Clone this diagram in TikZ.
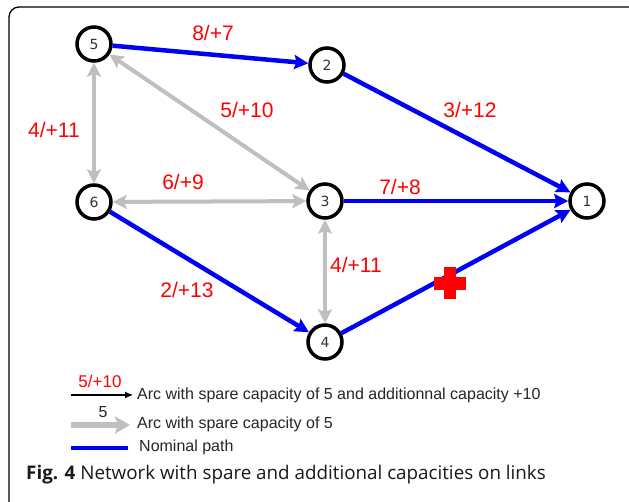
\documentclass[tikz,border=0pt]{standalone}
\usepackage{fontspec}
\setmainfont{Liberation Sans}
\newfontfamily\numfont{DejaVu Sans}
\newfontfamily\capfont{Open Sans}
\usetikzlibrary{arrows.meta}
\definecolor{sparegray}{RGB}{191,191,191}
\definecolor{arcblue}{RGB}{0,0,245}
\begin{document}
\begin{tikzpicture}[x=1pt,y=-1pt,
  vtx/.style={circle,draw=black,line width=3.5pt,minimum size=34pt,inner sep=0pt,
    font=\numfont\fontsize{14}{14}\selectfont,text=black!80},
  nominal/.style={draw=arcblue,line width=4.5pt,
    -{Stealth[length=14pt,width=14pt,inset=2pt]}},
  spare/.style={draw=sparegray,line width=4pt,
    {Stealth[length=14pt,width=14pt,inset=3pt]}-{Stealth[length=14pt,width=14pt,inset=3pt]}},
  caplbl/.style={text=red,font=\fontsize{21}{21}\selectfont,inner sep=0pt},
  legtxt/.style={anchor=west,text=black!85,font=\fontsize{16}{16}\selectfont,inner sep=0pt},
]
\clip (0,0) rectangle (629,501);
\fill[white] (0,0) rectangle (629,501);
\draw[line width=1.3pt,rounded corners=10pt] (9,7) rectangle (645,520);

% vertices
\node[vtx] (n5) at (94,44) {5};
\node[vtx] (n2) at (327,65) {2};
\node[vtx] (n6) at (94,202) {6};
\node[vtx] (n3) at (325,201) {3};
\node[vtx] (n1) at (587,201) {1};
\node[vtx] (n4) at (325,342) {4};

% spare arcs
\draw[spare] (n5) -- (n6);
\draw[spare] (n5) -- (n3);
\draw[spare] (n6) -- (n3);
\draw[spare] (n3) -- (n4);

% nominal path arcs
\draw[nominal] (n5) -- (n2);
\draw[nominal] (n2) -- (n1);
\draw[nominal] (n3) -- (n1);
\draw[nominal] (n6) -- (n4);
\draw[nominal] (n4) -- (n1);

% red cross
\fill[red] (434,277) rectangle (466,290);
\fill[red] (444,267) rectangle (456,299);

% capacity labels
\node[caplbl] (l52) at (213,33) {8/+7};
\node[caplbl] (l21) at (470,110) {3/+12};
\node[caplbl] (l53) at (247,110) {5/+10};
\node[caplbl] (l56) at (54,130) {4/+11};
\node[caplbl] (l63) at (183,182) {6/+9};
\node[caplbl] (l31) at (400,187) {7/+8};
\node[caplbl] (l34) at (356,265) {4/+11};
\node[caplbl] (l64) at (187,290) {2/+13};

% legend
\coordinate (a1s) at (71,395);
\coordinate (a1e) at (133,395);
\draw[black,line width=1.2pt,-{Latex[length=8pt,width=7pt]}] (a1s) -- (a1e);
\node[text=red,font=\fontsize{17}{17}\selectfont,inner sep=0pt] (lg1) at (100,381) {5/+10};
\node[legtxt] (lt1) at (137,395) {Arc with spare capacity of 5 and additionnal capacity +10};

\coordinate (a2s) at (71,425);
\coordinate (a2e) at (130,425);
\draw[draw=sparegray,line width=6pt,-{Stealth[length=15pt,width=17pt,inset=3pt]}] (a2s) -- (a2e);
\node[text=black!85,font=\fontsize{16}{16}\selectfont,inner sep=0pt] (lg2) at (103,412) {5};
\node[legtxt] (lt2) at (137,424) {Arc with spare capacity of 5};

\coordinate (a3s) at (71,448);
\coordinate (a3e) at (128,448);
\draw[draw=arcblue,line width=4pt] (a3s) -- (a3e);
\node[legtxt] (lt3) at (139,447) {Nominal path};

% caption
\node[anchor=west,inner sep=0pt,font=\capfont\fontsize{18.8}{19}\selectfont,text=black!90] (cap) at (26,475)
  {\textbf{Fig. 4} Network with spare and additional capacities on links};
\end{tikzpicture}
\end{document}
